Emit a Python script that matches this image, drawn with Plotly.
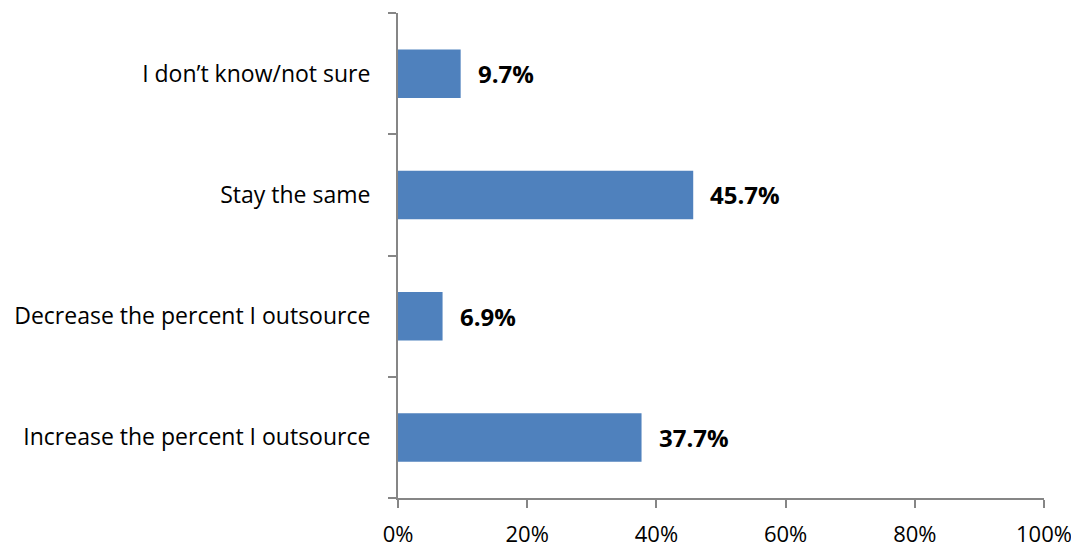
import plotly.graph_objects as go

categories = ["Increase the percent I outsource", "Decrease the percent I outsource",
              "Stay the same", "I don’t know/not sure"]
values = [37.7, 6.9, 45.7, 9.7]
labels = ["37.7%", "6.9%", "45.7%", "9.7%"]
x_ticks = [0, 20, 40, 60, 80, 100]
x_tick_text = ["0%", "20%", "40%", "60%", "80%", "100%"]

font_family = "Open Sans, Noto Sans, sans-serif"
axis_col = "#868686"

fig = go.Figure()
fig.add_trace(go.Bar(
    x=values, y=categories, orientation="h",
    marker=dict(color="#4F81BD", line=dict(width=0)),
    width=0.4, hoverinfo="skip",
))
for c, v, t in zip(categories, values, labels):
    fig.add_annotation(x=v, y=c, text="<b>" + t + "</b>", showarrow=False,
                       xanchor="left", xshift=15, font=dict(size=24, color="#000000", family=font_family))

fig.update_layout(
    width=1071, height=544,
    margin=dict(l=390, r=35, t=5, b=54),
    paper_bgcolor="white", plot_bgcolor="white",
    showlegend=False,
    font=dict(family=font_family, size=23, color="#000000"),
    xaxis=dict(range=[0, 100], tickvals=x_ticks, ticktext=x_tick_text,
               showgrid=False, zeroline=False, showline=True, linecolor=axis_col, linewidth=2,
               ticks="outside", ticklen=8, tickcolor=axis_col, tickwidth=2,
               tickfont=dict(size=22), automargin=False,
               ticklabelstandoff=8, fixedrange=True),
    yaxis=dict(type="category", categoryorder="array", categoryarray=categories,
               range=[-0.5, 3.5],
               showgrid=False, zeroline=False, showline=True, linecolor=axis_col, linewidth=2,
               ticks="outside", ticklen=8, tickcolor=axis_col, tickwidth=2,
               tickfont=dict(size=23), automargin=False,
               tickson="boundaries", ticklabelstandoff=21, fixedrange=True),
)

fig.write_html("out.html")
